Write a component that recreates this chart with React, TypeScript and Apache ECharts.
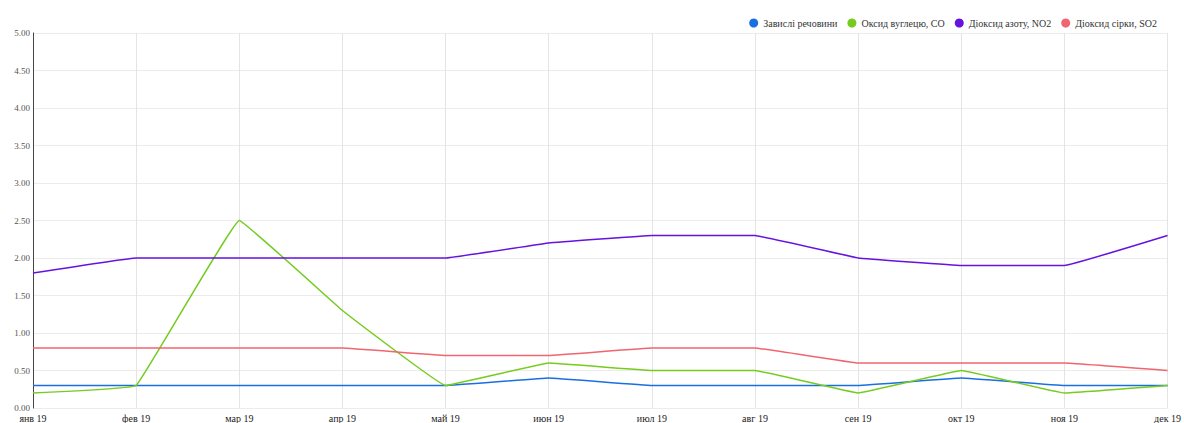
import React, { useEffect, useRef } from "react";
import * as echarts from "echarts";

const months = ["янв 19", "фев 19", "мар 19", "апр 19", "май 19", "июн 19", "июл 19", "авг 19", "сен 19", "окт 19", "ноя 19", "дек 19"];
const seriesNames = ["Завислі речовини", "Оксид вуглецю, CO", "Діоксид азоту, NO2", "Діоксид сірки, SO2"];
const suspended = [0.3, 0.3, 0.3, 0.3, 0.3, 0.4, 0.3, 0.3, 0.3, 0.4, 0.3, 0.3];
const carbonMonoxide = [0.2, 0.3, 2.5, 1.3, 0.3, 0.6, 0.5, 0.5, 0.2, 0.5, 0.2, 0.3];
const nitrogenDioxide = [1.8, 2.0, 2.0, 2.0, 2.0, 2.2, 2.3, 2.3, 2.0, 1.9, 1.9, 2.3];
const sulfurDioxide = [0.8, 0.8, 0.8, 0.8, 0.7, 0.7, 0.8, 0.8, 0.6, 0.6, 0.6, 0.5];
const colors = ["#1a6fe0", "#74cc1e", "#6612e0", "#f0656f"];
const FONT = "'Liberation Serif', 'Times New Roman', serif";

export default function App() {
  const ref = useRef<HTMLDivElement>(null);
  useEffect(() => {
    const chart = echarts.init(ref.current!, null, { renderer: "svg" });
    const values = [suspended, carbonMonoxide, nitrogenDioxide, sulfurDioxide];
    chart.setOption({
      animation: false,
      color: colors,
      textStyle: { fontFamily: FONT },
      legend: {
        top: 13,
        right: 22,
        icon: "circle",
        itemWidth: 9,
        itemHeight: 9,
        itemGap: 10,
        textStyle: { fontSize: 10, color: "#333", fontFamily: FONT },
        data: seriesNames,
      },
      grid: { left: 33, right: 12, top: 33, bottom: 15, containLabel: false },
      xAxis: {
        type: "category",
        boundaryGap: false,
        data: months,
        axisLine: { show: false },
        axisTick: { show: false },
        splitLine: { show: true, lineStyle: { color: "#e4e4e4" } },
        axisLabel: { fontSize: 10, color: "#222", margin: 5, fontFamily: FONT },
      },
      yAxis: {
        type: "value",
        min: 0,
        max: 5,
        interval: 0.5,
        axisLine: { show: true, lineStyle: { color: "#444" } },
        axisTick: { show: false },
        splitLine: { lineStyle: { color: "#ececec" } },
        axisLabel: {
          fontSize: 9,
          color: "#555",
          margin: 3,
          fontFamily: FONT,
          formatter: (v: number) => v.toFixed(2),
        },
      },
      series: seriesNames.map((name, i) => ({
        name,
        type: "line",
        data: values[i],
        smooth: 0.05,
        showSymbol: false,
        symbol: "circle",
        lineStyle: { width: 1.5, color: colors[i] },
      })),
    });
    return () => chart.dispose();
  }, []);
  return <div ref={ref} style={{ width: 1184, height: 423, position: "absolute", left: 0, top: 0 }} />;
}
